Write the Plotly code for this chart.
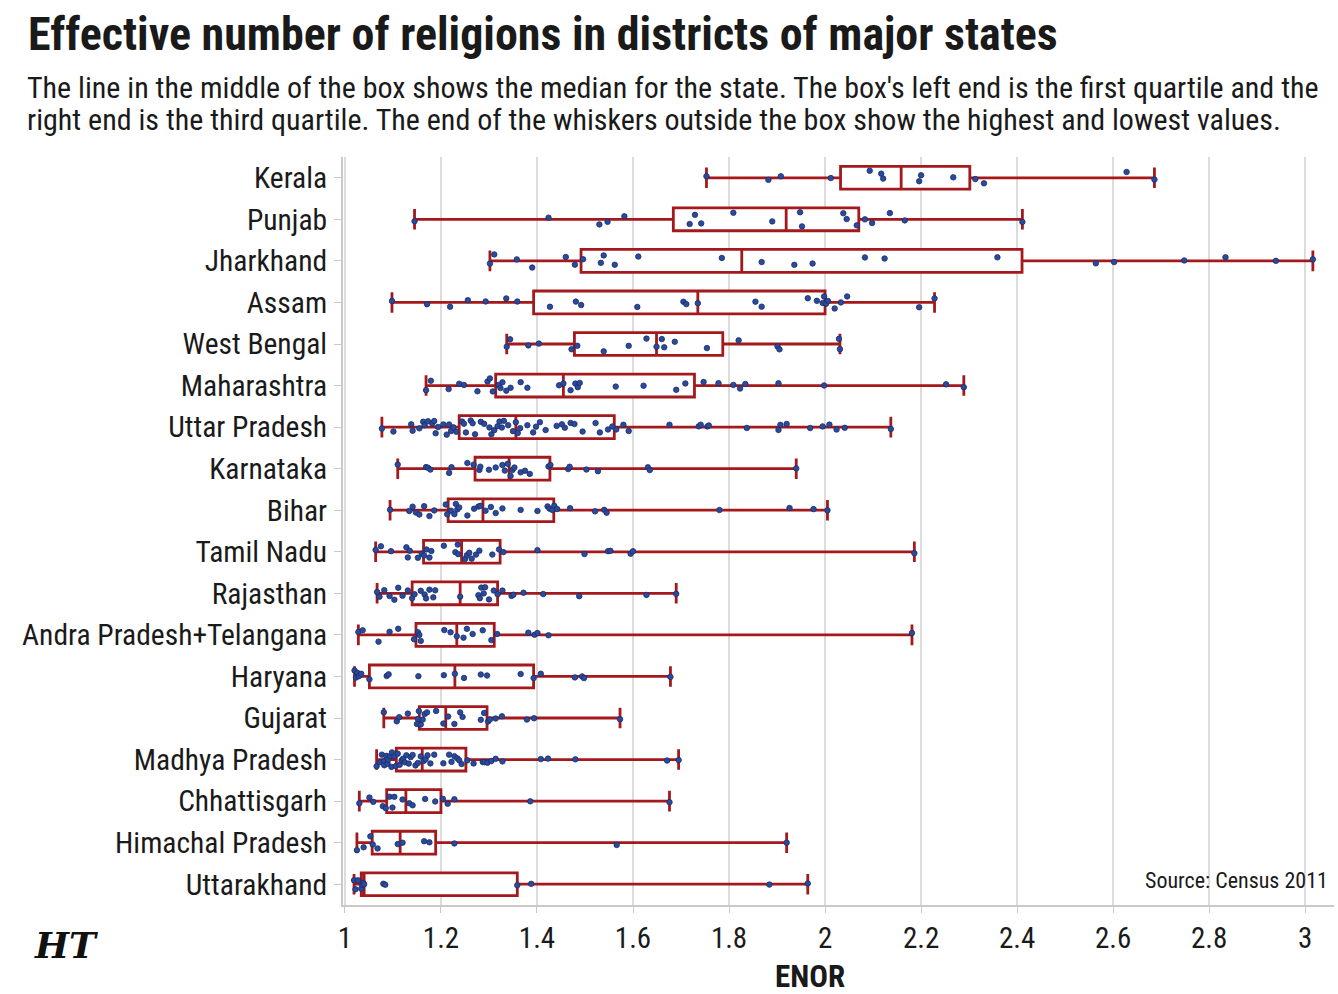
import numpy as np
import plotly.graph_objects as go

# ---------------- data ----------------
states = ["Kerala", "Punjab", "Jharkhand", "Assam", "West Bengal", "Maharashtra",
          "Uttar Pradesh", "Karnataka", "Bihar", "Tamil Nadu", "Rajasthan",
          "Andra Pradesh+Telangana", "Haryana", "Gujarat", "Madhya Pradesh",
          "Chhattisgarh", "Himachal Pradesh", "Uttarakhand"]

kerala = [1.753, 1.882, 1.908, 2.012, 2.093, 2.117, 2.121, 2.196, 2.200, 2.267,
          2.313, 2.331, 2.628, 2.686]
punjab = [1.145, 1.424, 1.530, 1.547, 1.582, 1.718, 1.729, 1.742, 1.809, 1.890,
          1.948, 1.952, 2.038, 2.045, 2.066, 2.083, 2.098, 2.135, 2.166, 2.411]
jharkhand = [1.302, 1.311, 1.358, 1.390, 1.460, 1.479, 1.496, 1.533, 1.539, 1.562,
             1.611, 1.785, 1.868, 1.936, 1.974, 2.083, 2.124, 2.359, 2.564, 2.602,
             2.748, 2.834, 2.939, 3.016]
assam = [1.098, 1.171, 1.219, 1.256, 1.293, 1.336, 1.359, 1.427, 1.481, 1.492,
         1.609, 1.705, 1.711, 1.735, 1.855, 1.868, 1.964, 1.983, 1.995, 1.998,
         2.002, 2.006, 2.020, 2.033, 2.046, 2.196, 2.228]
west_bengal = [1.337, 1.344, 1.382, 1.404, 1.472, 1.484, 1.539, 1.591, 1.628, 1.649,
               1.660, 1.665, 1.687, 1.754, 1.820, 1.901, 1.905, 2.029, 2.031]
maharashtra = [1.169, 1.179, 1.216, 1.238, 1.248, 1.276, 1.297, 1.302, 1.308, 1.320,
               1.324, 1.328, 1.336, 1.345, 1.366, 1.380, 1.446, 1.455, 1.470, 1.480,
               1.485, 1.489, 1.564, 1.622, 1.690, 1.709, 1.747, 1.778, 1.809, 1.823,
               1.834, 1.903, 1.998, 2.252, 2.289]
uttar_pradesh = [1.077, 1.101, 1.138, 1.141, 1.155, 1.163, 1.166, 1.173, 1.182, 1.186,
                 1.189, 1.194, 1.205, 1.212, 1.217, 1.221, 1.226, 1.232, 1.244, 1.248,
                 1.252, 1.262, 1.266, 1.271, 1.283, 1.290, 1.301, 1.305, 1.311, 1.318,
                 1.322, 1.327, 1.331, 1.340, 1.350, 1.356, 1.360, 1.365, 1.380, 1.392,
                 1.398, 1.406, 1.418, 1.441, 1.452, 1.458, 1.470, 1.478, 1.495, 1.522,
                 1.531, 1.548, 1.557, 1.565, 1.580, 1.591, 1.676, 1.737, 1.741, 1.755,
                 1.758, 1.837, 1.903, 1.907, 1.920, 1.969, 1.995, 2.009, 2.024, 2.041,
                 2.137]
karnataka = [1.110, 1.169, 1.173, 1.178, 1.217, 1.222, 1.255, 1.268, 1.280, 1.282,
             1.300, 1.314, 1.328, 1.333, 1.339, 1.345, 1.349, 1.353, 1.366, 1.375,
             1.385, 1.424, 1.428, 1.465, 1.468, 1.503, 1.527, 1.631, 1.635, 1.940]
bihar = [1.094, 1.134, 1.141, 1.148, 1.155, 1.165, 1.176, 1.186, 1.210, 1.213,
         1.221, 1.228, 1.231, 1.234, 1.238, 1.255, 1.269, 1.278, 1.282, 1.293,
         1.304, 1.314, 1.328, 1.366, 1.401, 1.422, 1.426, 1.432, 1.436, 1.442,
         1.469, 1.521, 1.540, 1.545, 1.780, 1.926, 1.976, 2.005]
tamil_nadu = [1.064, 1.075, 1.096, 1.128, 1.131, 1.135, 1.152, 1.160, 1.165, 1.170,
              1.176, 1.180, 1.206, 1.230, 1.235, 1.236, 1.250, 1.254, 1.259, 1.264,
              1.273, 1.280, 1.307, 1.321, 1.330, 1.401, 1.499, 1.548, 1.553, 1.595,
              1.600, 2.186]
rajasthan = [1.067, 1.072, 1.082, 1.093, 1.103, 1.111, 1.120, 1.131, 1.140, 1.145,
             1.158, 1.166, 1.169, 1.176, 1.184, 1.188, 1.240, 1.278, 1.281, 1.284,
             1.289, 1.292, 1.300, 1.310, 1.318, 1.328, 1.347, 1.351, 1.372, 1.413,
             1.488, 1.628, 1.690]
ap_telangana = [1.028, 1.037, 1.070, 1.093, 1.111, 1.144, 1.152, 1.155, 1.158, 1.207,
                1.220, 1.233, 1.247, 1.254, 1.266, 1.287, 1.305, 1.317, 1.382, 1.395,
                1.401, 1.424, 2.181]
haryana = [1.020, 1.023, 1.026, 1.029, 1.034, 1.051, 1.087, 1.091, 1.153, 1.206,
           1.229, 1.248, 1.283, 1.296, 1.366, 1.393, 1.408, 1.479, 1.494, 1.498,
           1.678]
gujarat = [1.081, 1.108, 1.113, 1.131, 1.150, 1.152, 1.154, 1.158, 1.162, 1.166,
           1.171, 1.190, 1.205, 1.215, 1.228, 1.240, 1.245, 1.283, 1.290, 1.298,
           1.302, 1.314, 1.327, 1.379, 1.394, 1.573]
madhya_pradesh = [1.066, 1.073, 1.077, 1.081, 1.082, 1.086, 1.089, 1.090, 1.094, 1.097,
                  1.098, 1.103, 1.106, 1.110, 1.114, 1.118, 1.121, 1.125, 1.128, 1.133,
                  1.137, 1.141, 1.147, 1.152, 1.158, 1.164, 1.168, 1.172, 1.178, 1.186,
                  1.205, 1.217, 1.222, 1.228, 1.234, 1.238, 1.243, 1.255, 1.268, 1.287,
                  1.291, 1.297, 1.305, 1.314, 1.328, 1.408, 1.423, 1.480, 1.671, 1.695]
chhattisgarh = [1.030, 1.051, 1.059, 1.079, 1.085, 1.093, 1.099, 1.103, 1.120, 1.134,
                1.141, 1.167, 1.188, 1.204, 1.214, 1.228, 1.386, 1.676]
himachal_pradesh = [1.025, 1.039, 1.053, 1.058, 1.068, 1.110, 1.120, 1.165, 1.176, 1.228,
                    1.566, 1.920]
uttarakhand = [1.019, 1.022, 1.027, 1.034, 1.036, 1.038, 1.040, 1.080, 1.084, 1.359,
               1.388, 1.884, 1.964]

series = [kerala, punjab, jharkhand, assam, west_bengal, maharashtra, uttar_pradesh,
          karnataka, bihar, tamil_nadu, rajasthan, ap_telangana, haryana, gujarat,
          madhya_pradesh, chhattisgarh, himachal_pradesh, uttarakhand]

x_ticks = [1, 1.2, 1.4, 1.6, 1.8, 2, 2.2, 2.4, 2.6, 2.8, 3]
x_tick_labels = ["1", "1.2", "1.4", "1.6", "1.8", "2", "2.2", "2.4", "2.6", "2.8", "3"]

title_text = "Effective number of religions in districts of major states"
sub1 = ("The line in the middle of the box shows the median for the state. "
        "The box's left end is the first quartile and the")
sub2 = ("right end is the third quartile. The end of the whiskers outside the box "
        "show the highest and lowest values.")

# ---------------- styling ----------------
FONT = "Liberation Sans Narrow, Roboto Condensed, DejaVu Sans Condensed, Arial Narrow, sans-serif"
RED = "#a3191c"
BLUE = "#2a4a9e"
TXT = "#1a1a1a"

W, H = 1338, 994
L, R, T, B = 343, 4, 157, 89
PW, PH = W - L - R, H - T - B


def px(xp):
    return (xp - L) / PW


def py(yp):
    return (H - B - yp) / PH


q1 = [float(np.percentile(s, 25)) for s in series]
med = [float(np.percentile(s, 50)) for s in series]
q3 = [float(np.percentile(s, 75)) for s in series]
lo = [float(np.min(s)) for s in series]
hi = [float(np.max(s)) for s in series]

fig = go.Figure()

fig.add_trace(go.Box(
    y=states, q1=q1, median=med, q3=q3, lowerfence=lo, upperfence=hi,
    orientation="h", boxpoints=False, fillcolor="white",
    line=dict(color=RED, width=2.8), width=0.55, whiskerwidth=0.9,
    hoverinfo="skip", showlegend=False,
))

all_x, all_y = [], []
for st, s in zip(states, series):
    all_x += list(s)
    all_y += [st] * len(s)

fig.add_trace(go.Box(
    x=all_x, y=all_y, orientation="h", boxpoints="all", jitter=0.7, pointpos=0,
    fillcolor="rgba(0,0,0,0)", line=dict(color="rgba(0,0,0,0)", width=0),
    whiskerwidth=0, width=0.55,
    marker=dict(color=BLUE, size=5.5, line=dict(width=0.8, color="#1c2d66")),
    hoverinfo="skip", showlegend=False,
))

fig.update_layout(
    width=W, height=H, margin=dict(l=L, r=R, t=T, b=B),
    paper_bgcolor="white", plot_bgcolor="white",
    boxmode="overlay", showlegend=False,
    font=dict(family=FONT, color=TXT),
    xaxis=dict(range=[0.996, 3.06], tickvals=x_ticks, ticktext=x_tick_labels,
               showgrid=True, gridcolor="#dcdcdc", gridwidth=2,
               showline=True, linecolor="#c9c9c9", linewidth=2,
               ticks="outside", ticklen=6, tickcolor="#c9c9c9",
               tickfont=dict(size=29, family=FONT, color=TXT),
               ticklabelstandoff=0, zeroline=False, fixedrange=True),
    yaxis=dict(type="category", categoryorder="array", categoryarray=states[::-1],
               range=[-0.5, len(states) - 0.5],
               showgrid=False, showline=True, linecolor="#c9c9c9", linewidth=2,
               ticks="outside", ticklen=7, tickcolor="#c9c9c9",
               tickfont=dict(size=29.5, family=FONT, color=TXT),
               ticklabelstandoff=1, fixedrange=True),
)

ann = [
    dict(text="<b>" + title_text + "</b>", x=px(26), y=py(34), xanchor="left",
         yanchor="middle", font=dict(size=46, family=FONT, color=TXT)),
    dict(text=sub1, x=px(25), y=py(87), xanchor="left", yanchor="middle",
         font=dict(size=30, family=FONT, color=TXT)),
    dict(text=sub2, x=px(25), y=py(120), xanchor="left", yanchor="middle",
         font=dict(size=30, family=FONT, color=TXT)),
    dict(text="Source: Census 2011", x=px(1330), y=py(880), xanchor="right",
         yanchor="middle", font=dict(size=22, family=FONT, color=TXT)),
    dict(text="<b>ENOR</b>", x=px(810), y=py(976), xanchor="center",
         yanchor="middle", font=dict(size=31, family=FONT, color=TXT)),
    dict(text="<b><i>HT</i></b>", x=px(66), y=py(945), xanchor="center",
         yanchor="middle", font=dict(size=36, family="DejaVu Serif, serif", color="#111")),
]
for a in ann:
    a.update(xref="paper", yref="paper", showarrow=False)
fig.update_layout(annotations=ann)

fig.write_html("out.html")
